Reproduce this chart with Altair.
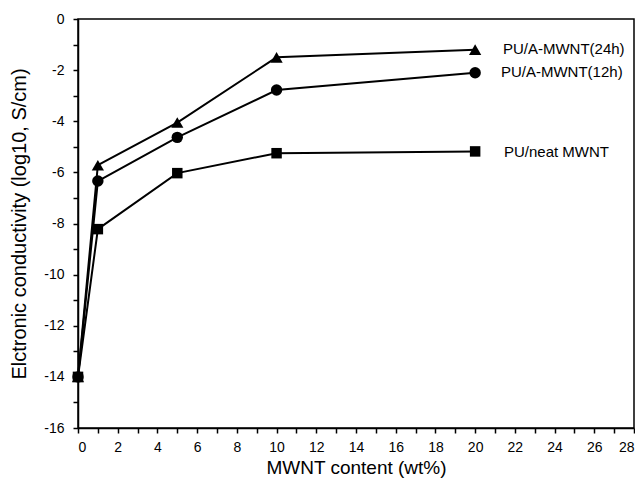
import altair as alt
import pandas as pd

x_vals = [0, 1, 5, 10, 20]
series_names = ["PU/A-MWNT(24h)", "PU/A-MWNT(12h)", "PU/neat MWNT"]
y_24h = [-14.0, -5.72, -4.05, -1.5, -1.2]
y_12h = [-14.0, -6.34, -4.63, -2.78, -2.1]
y_neat = [-14.0, -8.22, -6.03, -5.25, -5.18]
shapes = ["triangle-up", "circle", "square"]
marker_sizes = [150, 110, 100]
label_x = [21.4, 21.3, 21.45]
label_y = [-1.17, -2.07, -5.2]
x_ticks = list(range(0, 29))
y_ticks = list(range(-16, 1))

rows = []
for name, ys in zip(series_names, [y_24h, y_12h, y_neat]):
    for xv, yv in zip(x_vals, ys):
        rows.append({"series": name, "x": xv, "y": yv})
df = pd.DataFrame(rows)
lab = pd.DataFrame({"series": series_names, "x": label_x, "y": label_y})

font = "Liberation Sans"
xscale = alt.Scale(domain=[0, 28], nice=False, zero=False)
yscale = alt.Scale(domain=[-16, 0], nice=False, zero=False)

common = dict(
    labelExpr="datum.value % 2 == 0 ? toString(datum.value) : ''",
    tickSize=5,
    grid=False, domainColor="black", tickColor="black", domainWidth=1.5, tickWidth=1.5,
    labelFont=font, labelFontSize=14, labelColor="black", labelOverlap=False,
    labelBound=False,
    titleFont=font, titleFontWeight="normal", titleColor="black",
)
xaxis = alt.Axis(
    values=x_ticks,
    title="MWNT content (wt%)",
    labelPadding=7, titlePadding=4, titleFontSize=19,
    **common,
)
yaxis = alt.Axis(
    values=y_ticks,
    title="Elctronic conductivity (log10,  S/cm)",
    labelPadding=9, titlePadding=14, titleFontSize=20,
    **common,
)

xenc = alt.X("x:Q", scale=xscale, axis=xaxis)
yenc = alt.Y("y:Q", scale=yscale, axis=yaxis)

base = alt.Chart(df).encode(x=xenc, y=yenc, detail="series:N")
lines = base.mark_line(color="black", strokeWidth=2)
points = base.mark_point(filled=True, color="black", opacity=1).encode(
    shape=alt.Shape("series:N", scale=alt.Scale(domain=series_names, range=shapes), legend=None),
    size=alt.Size("series:N", scale=alt.Scale(domain=series_names, range=marker_sizes), legend=None),
)
texts = alt.Chart(lab).mark_text(
    align="left", baseline="middle", font=font, fontSize=15, color="black"
).encode(x=xenc, y=yenc, text="series:N")

chart = alt.layer(lines, points, texts).properties(
    width=556, height=409,
    autosize=alt.AutoSizeParams(type="none"),
    padding={"left": 70, "top": 11, "right": 1, "bottom": 54},
    background="white",
).configure_view(stroke="black", strokeWidth=1.5)

chart.save("out.html", embed_options={"renderer": "svg", "actions": False})
